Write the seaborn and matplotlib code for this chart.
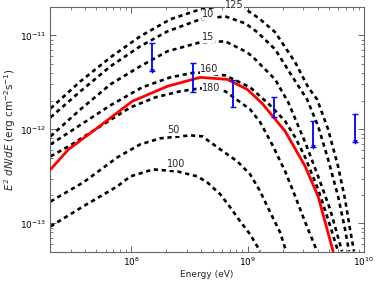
import numpy as np
import pandas as pd
import matplotlib
matplotlib.use('Agg')
import matplotlib.pyplot as plt
import seaborn as sns

# Model curves (energy in eV, E^2 dN/dE in erg cm^-2 s^-1)
e_125 = [2.02e7, 3.65e7, 6.61e7, 1.19e8, 2.16e8, 3.91e8, 6.41e8, 9.91e8, 1.28e9,
         1.72e9, 2.56e9, 3.31e9, 3.95e9, 4.91e9, 5.98e9, 6.87e9, 7.58e9, 8.20e9]
f_125 = [1.67e-12, 3.24e-12, 5.83e-12, 9.75e-12, 1.48e-11, 1.89e-11, 2.08e-11, 1.85e-11, 1.48e-11,
         1.08e-11, 5.16e-12, 2.80e-12, 2.08e-12, 1.00e-12, 4.04e-13, 1.80e-13, 8.63e-14, 5.04e-14]

e_10 = [2.02e7, 3.65e7, 6.61e7, 1.19e8, 2.04e8, 3.91e8, 6.41e8, 9.52e8, 1.21e9,
        1.72e9, 2.41e9, 3.24e9, 4.03e9, 4.91e9, 5.98e9, 6.87e9, 7.43e9]
f_10 = [1.34e-12, 2.54e-12, 4.68e-12, 7.64e-12, 1.10e-11, 1.48e-11, 1.59e-11, 1.34e-11, 1.08e-11,
        7.10e-12, 3.66e-12, 2.08e-12, 1.08e-12, 4.80e-13, 1.94e-13, 8.63e-14, 5.04e-14]

e_15 = [2.02e7, 3.65e7, 6.61e7, 1.19e8, 2.04e8, 3.91e8, 6.41e8, 9.91e8, 1.16e9,
        1.72e9, 2.23e9, 3.12e9, 4.03e9, 5.11e9, 6.47e9]
f_15 = [8.43e-13, 1.63e-12, 3.01e-12, 4.68e-12, 6.76e-12, 8.43e-12, 8.63e-12, 6.59e-12, 5.56e-12,
        3.40e-12, 1.94e-12, 7.27e-13, 3.16e-13, 1.41e-13, 5.04e-14]

e_160 = [2.02e7, 3.51e7, 6.61e7, 1.24e8, 2.16e8, 3.54e8, 6.41e8, 1.05e9, 1.56e9,
         2.10e9, 2.56e9, 3.12e9, 4.03e9, 4.91e9, 5.98e9]
f_160 = [6.92e-13, 1.08e-12, 1.80e-12, 2.80e-12, 3.57e-12, 4.04e-12, 3.75e-12, 2.80e-12, 1.80e-12,
         1.22e-12, 8.22e-13, 5.04e-13, 2.30e-13, 1.10e-13, 5.04e-14]

e_180 = [2.02e7, 2.99e7, 5.42e7, 9.80e7, 1.61e8, 2.63e8, 3.91e8, 6.41e8, 1.05e9,
         1.28e9, 1.62e9, 2.10e9, 2.56e9, 3.12e9, 3.95e9]
f_180 = [5.16e-13, 6.76e-13, 1.08e-12, 1.71e-12, 2.19e-12, 2.54e-12, 2.73e-12, 2.54e-12, 1.63e-12,
         1.19e-12, 6.92e-13, 3.57e-13, 1.94e-13, 1.03e-13, 5.04e-14]

e_50 = [2.02e7, 3.87e7, 7.59e7, 1.19e8, 1.77e8, 3.21e8, 4.07e8, 5.81e8, 8.13e8,
        1.05e9, 1.28e9, 1.56e9, 1.90e9, 2.14e9]
f_50 = [1.71e-13, 2.73e-13, 5.04e-13, 6.92e-13, 8.02e-13, 8.63e-13, 8.43e-13, 6.12e-13, 4.57e-13,
        3.32e-13, 2.19e-13, 1.31e-13, 8.02e-14, 5.04e-14]

e_100 = [2.02e7, 3.87e7, 7.59e7, 9.80e7, 1.54e8, 2.48e8, 3.69e8, 4.49e8, 5.81e8,
         7.08e8, 8.62e8, 1.05e9, 1.28e9]
f_100 = [9.29e-14, 1.52e-13, 2.48e-13, 3.16e-13, 3.75e-13, 3.57e-13, 3.16e-13, 2.73e-13, 2.04e-13,
         1.48e-13, 1.05e-13, 7.64e-14, 5.04e-14]

# best-fit (red)
e_fit = [2.02e7, 2.88e7, 4.91e7, 1.02e8, 2.04e8, 3.91e8, 6.67e8, 9.91e8, 1.33e9,
         2.10e9, 3.12e9, 4.03e9, 5.42e9]
f_fit = [3.75e-13, 6.12e-13, 1.00e-12, 1.99e-12, 2.87e-12, 3.57e-12, 3.40e-12, 2.66e-12, 1.89e-12,
         9.52e-13, 4.04e-13, 1.94e-13, 5.04e-14]

# data points (error bars); flagged ones get a downward arrow
e_pts = [1.51e8, 3.41e8, 7.51e8, 1.69e9, 3.65e9, 8.38e9]
f_lo = [4.14e-12, 2.48e-12, 1.71e-12, 1.34e-12, 6.44e-13, 7.27e-13]
f_hi = [8.22e-12, 5.04e-12, 3.32e-12, 2.19e-12, 1.22e-12, 1.45e-12]
is_limit = [True, False, False, False, True, True]

curve_names = ['125', '10', '15', '160', '180', '50', '100']
curve_e = [e_125, e_10, e_15, e_160, e_180, e_50, e_100]
curve_f = [f_125, f_10, f_15, f_160, f_180, f_50, f_100]
label_e = [6.41e8, 4.07e8, 4.07e8, 3.91e8, 4.07e8, 2.04e8, 2.04e8]
label_f = [2.08e-11, 1.67e-11, 9.52e-12, 4.35e-12, 2.73e-12, 9.76e-13, 4.25e-13]

sns.set_style("ticks")
plt.rcParams['font.family'] = ['DejaVu Sans']
plt.rcParams['xtick.direction'] = 'in'
plt.rcParams['ytick.direction'] = 'in'
plt.rcParams['xtick.top'] = True
plt.rcParams['ytick.right'] = True
plt.rcParams['axes.edgecolor'] = '0.4'
plt.rcParams['xtick.color'] = '0.3'
plt.rcParams['ytick.color'] = '0.3'

fig = plt.figure(figsize=(3.82, 2.86), dpi=100)
ax = fig.add_axes([0.131, 0.12, 0.822, 0.8555])
ax.set_xscale('log')
ax.set_yscale('log')

for name, ee, ff in zip(curve_names, curve_e, curve_f):
    df = pd.DataFrame({'E': ee, 'F': ff})
    sns.lineplot(data=df, x='E', y='F', ax=ax, color='black', lw=1.9,
                 linestyle=(0, (1.6, 1.4)), sort=False, estimator=None)

df_fit = pd.DataFrame({'E': e_fit, 'F': f_fit})
sns.lineplot(data=df_fit, x='E', y='F', ax=ax, color='red', lw=2, sort=False,
             estimator=None, zorder=3)

e_pts = np.array(e_pts)
f_lo = np.array(f_lo)
f_hi = np.array(f_hi)
f_mid = np.sqrt(f_lo * f_hi)
ax.errorbar(e_pts, f_mid, yerr=[f_mid - f_lo, f_hi - f_mid], fmt='none',
            ecolor='blue', elinewidth=1.3, capsize=2, capthick=1, zorder=4)
lim = np.array(is_limit)
sns.scatterplot(x=e_pts[lim], y=f_lo[lim], ax=ax, marker='v', color='blue',
                s=12, linewidth=0, zorder=5)

for name, le, lf in zip(curve_names, label_e, label_f):
    ax.text(le, lf, name, fontsize=7, ha='left', va='center', zorder=6,
            bbox=dict(facecolor='white', edgecolor='none', pad=0.4))

ax.set_xlim(2e7, 1e10)
ax.set_ylim(5e-14, 2e-11)
ax.tick_params(which='major', length=4, width=0.6, labelsize=6.5, labelcolor='black', pad=3)
ax.tick_params(which='minor', length=2, width=0.5)
for sp in ax.spines.values():
    sp.set_linewidth(0.8)

ax.set_xlabel('Energy (eV)', fontsize=6.5, labelpad=1)
ax.set_ylabel(r'$E^2\ dN/dE$ (erg cm$^{-2}$s$^{-1}$)', fontsize=7.5, labelpad=1)

fig.savefig('out.png', dpi=100)
